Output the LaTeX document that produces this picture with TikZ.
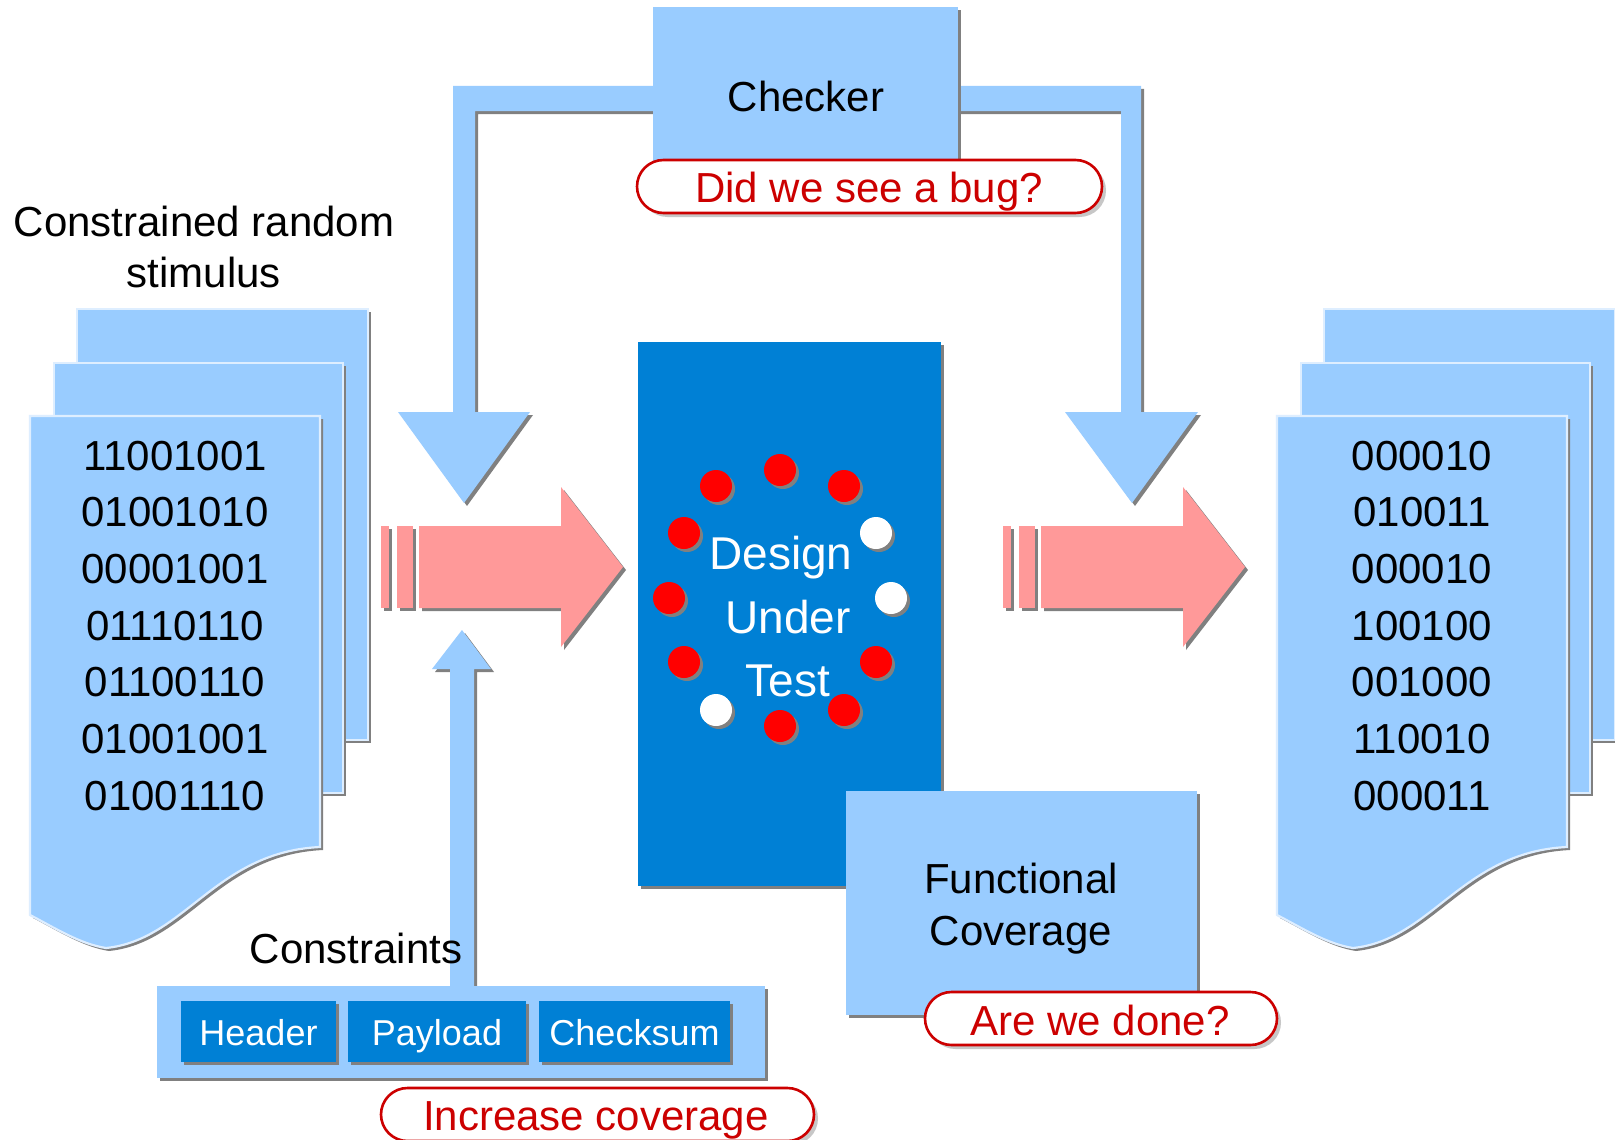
\documentclass[tikz,border=0pt]{standalone}
\usepackage{fontspec}
\setmainfont{Liberation Sans}
\usetikzlibrary{calc,shadows}
\definecolor{lblue}{RGB}{153,204,255}
\definecolor{dutblue}{RGB}{0,128,213}
\definecolor{pinkc}{RGB}{255,153,153}
\definecolor{bubred}{RGB}{204,0,0}
\definecolor{shade}{RGB}{128,128,128}
\definecolor{pageedge}{RGB}{222,238,255}
\pgfdeclarelayer{back}
\pgfsetlayers{back,main}
\begin{document}
\begin{tikzpicture}[x=1pt,y=-1pt,
  sh/.style={drop shadow={shadow xshift=3pt,shadow yshift=-3pt,fill=shade,opacity=1}},
  softsh/.style={drop shadow={shadow xshift=4pt,shadow yshift=-4pt,fill=black!22,opacity=1}},
  page/.style={fill=lblue,draw=pageedge,line width=2.2pt,sh},
  flow/.style={fill=lblue,sh},
  pinkflow/.style={fill=pinkc,sh},
  lbox/.style={rectangle,fill=lblue,sh,inner sep=0pt,outer sep=0pt},
  dbox/.style={rectangle,fill=dutblue,sh,inner sep=0pt,outer sep=0pt},
  bubble/.style={rectangle,rounded corners=26.5pt,fill=white,draw=bubred,line width=2.6pt,softsh,inner sep=0pt,minimum height=53pt},
  dot/.style={circle,inner sep=0pt,minimum size=32pt,sh},
  txt/.style={anchor=base,inner sep=0pt,font=\fontsize{42pt}{50pt}\selectfont},
  smalltxt/.style={anchor=base,inner sep=0pt,text=white,font=\fontsize{36pt}{44pt}\selectfont},
  duttxt/.style={anchor=base,inner sep=0pt,text=white,font=\fontsize{46pt}{54pt}\selectfont},
  redtxt/.style={txt,text=bubred}
]
\begin{pgfonlayer}{back}
  \fill[white] (0,0) rectangle (1615,1140);
\end{pgfonlayer}
\useasboundingbox (0,0) rectangle (1615,1140);

% stacks of stimulus / response pages
\foreach \dx in {0,1247}{
  \begin{scope}[xshift=\dx pt]
    \path[page] (77,309) rectangle (368,740);
    \path[page] (54,363) rectangle (343,793);
    \path[page] (30,416) -- (320,416) -- (320,847)
      .. controls (215,852) and (185,940) .. (106,948)
      .. controls (80,944) and (55,928) .. (30,915) -- cycle;
  \end{scope}
}

% bit patterns on the front pages
\foreach \s [count=\i] in {11001001,01001010,00001001,01110110,01100110,01001001,01001110}{
  \node[txt] (inbits\i) at (175,{470+56.67*(\i-1)}) {\s};
}
\foreach \s [count=\i] in {000010,010011,000010,100100,001000,110010,000011}{
  \node[txt] (outbits\i) at (1422,{470+56.67*(\i-1)}) {\s};
}

\node[txt] (stimA) at (204,236) {Constrained random};
\node[txt] (stimB) at (204,287) {stimulus};

% striped block arrows into and out of the design
\foreach \dx in {0,622}{
  \begin{scope}[xshift=\dx pt]
    \path[pinkflow] (381,526) rectangle (389,608);
    \path[pinkflow] (397,526) rectangle (413,608);
    \path[pinkflow] (419,526) -- (561,526) -- (561,487) -- (623,567)
      -- (561,647) -- (561,608) -- (419,608) -- cycle;
  \end{scope}
}

% design under test
\node[dbox,minimum width=303pt,minimum height=544pt] (dut) at (789.5,614) {};
\foreach \px/\py/\c [count=\i] in {780/470/red,844/486/red,876/533/white,891/598/white,
    876/662/red,844/710/red,780/726/red,716/710/white,684/662/red,669/598/red,
    684/533/red,716/486/red}{
  \node[dot,fill=\c] (dot\i) at (\px,\py) {};
}
\node[duttxt] (dutA) at (781,569) {Design};
\node[duttxt] (dutB) at (788,633) {Under};
\node[duttxt] (dutC) at (788,696) {Test};

% checker
\node[lbox,minimum width=305pt,minimum height=168pt] (checker) at (805.5,91) {};
\node[txt] (checkerlbl) at (806,111) {Checker};
\node[bubble,minimum width=465pt] (bug) at (869.5,186.5) {};
\node[redtxt] (buglbl) at (869,202) {Did we see a bug?};

% functional coverage
\node[lbox,minimum width=351pt,minimum height=224pt] (cov) at (1021.5,903) {};
\node[txt] (covA) at (1021,893) {Functional};
\node[txt] (covB) at (1021,945) {Coverage};
\node[bubble,minimum width=352pt] (done) at (1101,1018.5) {};
\node[redtxt] (donelbl) at (1100,1035) {Are we done?};

% constraints
\node[lbox,minimum width=608pt,minimum height=92pt] (cons) at (461,1032) {};
\node[dbox,minimum width=155pt,minimum height=61pt] (hdr) at (258.5,1031.5) {};
\node[dbox,minimum width=178pt,minimum height=61pt] (pay) at (437,1031.5) {};
\node[dbox,minimum width=191pt,minimum height=61pt] (chk) at (634.5,1031.5) {};
\node[smalltxt] (hdrlbl) at (258.5,1045) {Header};
\node[smalltxt] (paylbl) at (437,1045) {Payload};
\node[smalltxt] (chklbl) at (634.5,1045) {Checksum};
\node[txt] (conslbl) at (356,963) {Constraints};
\node[bubble,minimum width=433pt] (incr) at (597.5,1114.5) {};
\node[redtxt] (incrlbl) at (596,1130) {Increase coverage};

% feedback arrows behind the boxes
\coordinate (tipL) at (464,503);
\coordinate (tipR) at (1132,503);
\coordinate (tipU) at (462,630);
\begin{pgfonlayer}{back}
  \path[flow] ($(checker.west)+(30,-5)$) -- (453,86) -- (453,412) -- (398,412)
    -- (tipL) -- (530,412) -- (475,412) -- (475,111) -- ($(checker.west)+(30,20)$) -- cycle;
  \path[flow] ($(checker.east)+(-30,-5)$) -- (1141,86) -- (1141,412) -- (1198,412)
    -- (tipR) -- (1065,412) -- (1121,412) -- (1121,111) -- ($(checker.east)+(-30,20)$) -- cycle;
  \path[flow] ($(cons.north)+(-11,0)$) -- (450,669) -- (432,669) -- (tipU)
    -- (491,669) -- (474,669) -- ($(cons.north)+(13,0)$) -- cycle;
\end{pgfonlayer}
\end{tikzpicture}
\end{document}
